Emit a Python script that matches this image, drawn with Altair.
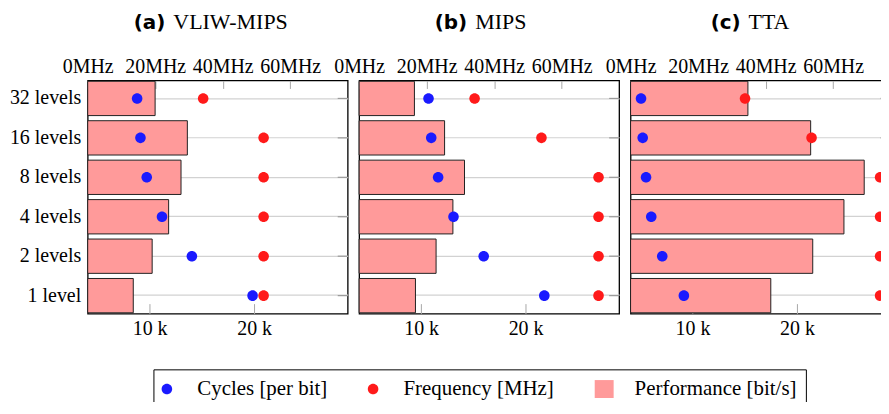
import altair as alt
import pandas as pd

# ---- data ----
levels = ["32 levels", "16 levels", "8 levels", "4 levels", "2 levels", "1 level"]
panels = ["a", "b", "c"]
panel_tags = ["(a)", "(b)", "(c)"]
panel_names = ["VLIW-MIPS", "MIPS", "TTA"]

# cycles per bit
cycles_a = [8800, 9120, 9720, 11180, 14040, 19850]
cycles_b = [10710, 10970, 11630, 13100, 15990, 21790]
cycles_c = [5070, 5230, 5550, 6050, 7100, 9170]
# frequency [MHz]
freq_a = [34.2, 52.1, 52.1, 52.1, 52.1, 52.1]
freq_b = [34.2, 54.0, 70.9, 70.9, 70.9, 70.9]
freq_c = [33.9, 53.6, 73.9, 73.9, 73.9, 73.9]
# performance [bit/s]
perf_a = [3890, 5750, 5385, 4670, 3720, 2630]
perf_b = [3190, 4930, 6080, 5410, 4440, 3250]
perf_c = [6770, 10390, 13480, 12310, 10510, 8090]

series = ["Cycles [per bit]", "Frequency [MHz]", "Performance [bit/s]"]
series_colors = ["#1a1aff", "#ff1a1a", "#ff9a9a"]

# ---- layout / style ----
W, H = 261, 234
SERIF = "Liberation Serif"
title_tag_x = {"a": 78, "b": 108.5, "c": 110.5}
title_gap = 8

circle_path = "M-1.06,0A1.06,1.06,0,1,1,1.06,0A1.06,1.06,0,1,1,-1.06,0Z"
rect_path = "M-1.9,-1.8L1.9,-1.8L1.9,1.8L-1.9,1.8Z"

color_scale = alt.Scale(domain=series, range=series_colors)
shape_scale = alt.Scale(domain=series, range=[circle_path, circle_path, rect_path])

legend = alt.Legend(
    title=None, orient="none", legendX=66, legendY=290, direction="horizontal",
    symbolSize=100, symbolStrokeWidth=0, symbolOffset=-6, labelFont=SERIF,
    labelFontSize=21, labelColor="black", labelOffset=20, columnPadding=40,
    padding=9, strokeColor="black", labelLimit=400,
)


def panel(p, tag, name, cyc, frq, prf, first):
    df = pd.DataFrame(dict(level=levels, cycles=cyc, freq=frq, perf=prf))
    y_enc = alt.Y(
        "level:N", sort=levels, title=None,
        scale=alt.Scale(paddingInner=0.13, paddingOuter=0.02),
        axis=alt.Axis(ticks=False, domain=False, grid=True, bandPosition=0.5,
                      gridColor="#d2d2d2", gridWidth=1.2, labelFont=SERIF,
                      labelFontSize=20, labelColor="black", labelPadding=7,
                      labels=first),
    )
    y_plain = alt.Y("level:N", sort=levels)
    base = alt.Chart(df)

    bars = base.transform_calculate(series="'Performance [bit/s]'").mark_bar(
        stroke="#222222", strokeWidth=1
    ).encode(
        x=alt.X("perf:Q", scale=alt.Scale(domain=[0, 15000]), axis=None),
        y=y_enc,
        color=alt.Color("series:N", scale=color_scale, legend=legend),
    )

    right_ticks = base.mark_rule(color="#9a9a9a", strokeWidth=1.2).encode(
        x=alt.value(W - 10), x2=alt.value(W), y=y_plain
    )

    cyc_pts = base.transform_calculate(series="'Cycles [per bit]'").mark_point(
        filled=True, size=100, opacity=1
    ).encode(
        x=alt.X("cycles:Q", scale=alt.Scale(domain=[4070, 28950]),
                axis=alt.Axis(orient="bottom", values=[10000, 20000], title=None,
                              labelExpr="datum.value / 1000 + ' k'", domain=False,
                              grid=False, tickSize=10, offset=-10, tickColor="#a8a8a8",
                              labelFont=SERIF, labelFontSize=20, labelColor="black",
                              labelBaseline="alphabetic", labelPadding=21.5,
                              labelOverlap=False, labelFlush=False)),
        y=y_plain,
        color=alt.Color("series:N", scale=color_scale, legend=legend),
        shape=alt.Shape("series:N", scale=shape_scale, legend=legend),
    )

    frq_pts = base.transform_calculate(series="'Frequency [MHz]'").mark_point(
        filled=True, size=100, opacity=1
    ).encode(
        x=alt.X("freq:Q", scale=alt.Scale(domain=[0, 77]),
                axis=alt.Axis(orient="top", values=[0, 20, 40, 60], title=None,
                              labelExpr="datum.value + 'MHz'", domain=False,
                              grid=False, tickSize=8, offset=-8, tickColor="#a8a8a8",
                              labelFont=SERIF, labelFontSize=20, labelColor="black",
                              labelBaseline="alphabetic", labelPadding=8,
                              labelOverlap=False, labelFlush=False)),
        y=y_plain,
        color=alt.Color("series:N", scale=color_scale, legend=legend),
        shape=alt.Shape("series:N", scale=shape_scale, legend=legend),
    )

    tx = title_tag_x[p]
    tags = alt.Chart(pd.DataFrame({"t": [tag]})).mark_text(
        font="DejaVu Sans", fontWeight="bold", fontSize=20, align="right",
        baseline="alphabetic", color="black"
    ).encode(x=alt.value(tx), y=alt.value(-52), text="t:N")

    names = alt.Chart(pd.DataFrame({"t": [name]})).mark_text(
        font=SERIF, fontSize=22, align="left", baseline="alphabetic", color="black"
    ).encode(x=alt.value(tx + title_gap), y=alt.value(-52), text="t:N")

    return alt.layer(bars, right_ticks, cyc_pts, frq_pts, tags, names).resolve_scale(
        x="independent"
    ).properties(width=W, height=H)


charts = [
    panel("a", panel_tags[0], panel_names[0], cycles_a, freq_a, perf_a, True),
    panel("b", panel_tags[1], panel_names[1], cycles_b, freq_b, perf_b, False),
    panel("c", panel_tags[2], panel_names[2], cycles_c, freq_c, perf_c, False),
]

chart = alt.hconcat(*charts, spacing=11.5, bounds="flush").configure_view(
    stroke="black", strokeWidth=1.3
).properties(padding={"left": 0, "top": 1.0, "right": -11.6, "bottom": -8})

chart.save("out.html", embed_options={"renderer": "svg", "actions": False})
